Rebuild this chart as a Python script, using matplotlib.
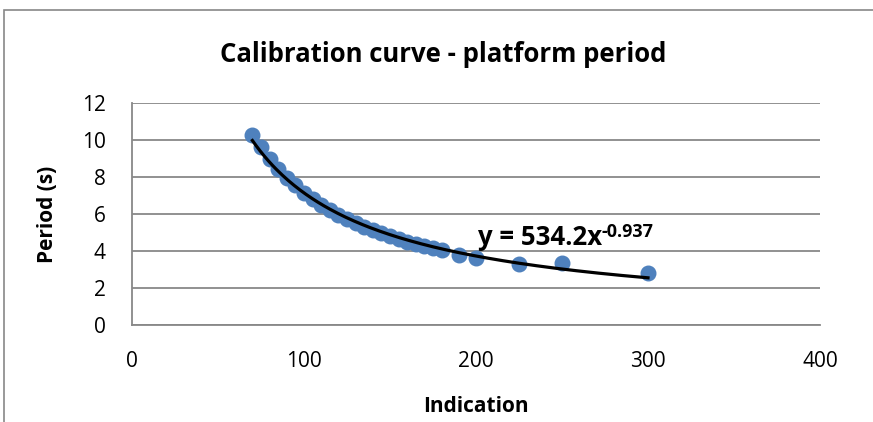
import numpy as np
import matplotlib
matplotlib.use("Agg")
import matplotlib.pyplot as plt
from matplotlib.patches import Rectangle

# scale indication vs measured platform period
indication = [70, 75, 80, 85, 90, 95, 100, 105, 110, 115, 120, 125, 130, 135,
              140, 145, 150, 155, 160, 165, 170, 175, 180, 190, 200, 225, 250, 300]
period = [10.27, 9.6, 9.0, 8.45, 7.95, 7.55, 7.15, 6.8, 6.5, 6.2, 5.95, 5.75, 5.5, 5.3,
          5.12, 4.95, 4.8, 4.65, 4.5, 4.38, 4.26, 4.15, 4.05, 3.8, 3.62, 3.28, 3.33, 2.8]

# power trendline y = a * x^b
fit_a = 534.2
fit_b = -0.937

x_ticks = [0, 100, 200, 300, 400]
y_ticks = [0, 2, 4, 6, 8, 10, 12]

plt.rcParams['font.family'] = ['Open Sans', 'DejaVu Sans']

W, H = 873, 422
fig = plt.figure(figsize=(W / 100, H / 100), dpi=100)

# chart area border (runs off the right and bottom edges)
fig.patches.append(Rectangle((4 / W, -0.1), 1.2, 1 - 10 / H + 0.1, transform=fig.transFigure,
                             fill=False, edgecolor='#888888', linewidth=1.2))

ax = fig.add_axes([132 / W, 1 - 325 / H, (820 - 132) / W, (325 - 103) / H])
ax.set_xlim(0, 400)
ax.set_ylim(0, 12)
ax.set_xticks(x_ticks)
ax.set_yticks(y_ticks)
ax.tick_params(length=0, labelsize=15)
ax.tick_params(axis='y', pad=19)
ax.tick_params(axis='x', pad=19)
ax.grid(axis='y', color='#888888', linewidth=1.3)
ax.set_axisbelow(True)
for side in ['top', 'right']:
    ax.spines[side].set_visible(False)
for side in ['left', 'bottom']:
    ax.spines[side].set_color('#888888')
    ax.spines[side].set_linewidth(1.3)

ax.scatter(indication, period, s=110, color='#4F81BD', zorder=3, clip_on=False)

xf = np.linspace(min(indication), max(indication), 200)
ax.plot(xf, fit_a * xf ** fit_b, color='black', linewidth=2.3, zorder=4)

# trendline equation, exponent as a raised second text
eq = ax.text(201, 4.3, 'y = %.1fx' % fit_a, fontsize=18.5, fontweight='bold', zorder=5)
ax.annotate('%.3f' % fit_b, xy=(1, 1), xycoords=eq, xytext=(0, 1), textcoords='offset points',
            ha='left', va='top', fontsize=13, fontweight='bold', zorder=5)

fig.text(443 / W, 1 - 55 / H, 'Calibration curve - platform period', ha='center', va='center',
         fontsize=18.5, fontweight='bold')
ax.set_xlabel('Indication', fontsize=15, fontweight='bold')
ax.set_ylabel('Period (s)', fontsize=15, fontweight='bold')
ax.xaxis.set_label_coords(0.5, -0.32)
ax.yaxis.set_label_coords(-0.108, 0.5)

fig.savefig('out.png', dpi=100)
